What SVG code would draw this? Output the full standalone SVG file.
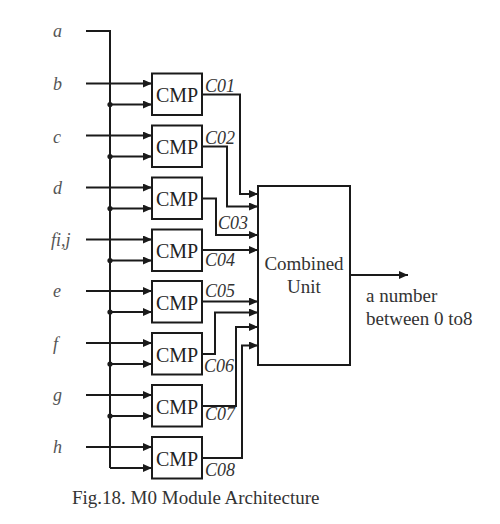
<svg xmlns="http://www.w3.org/2000/svg" width="500" height="524" viewBox="0 0 500 524">
<style>
.w{fill:none;stroke:#1a1a1a;stroke-width:2}
.a{marker-end:url(#ah)}
.box{fill:#fff;stroke:#1a1a1a;stroke-width:2}
.cmp{font-family:"Liberation Serif",serif;font-size:20px;fill:#222}
.lbl{font-family:"Liberation Serif",serif;font-size:18px;font-style:italic;fill:#333}
.in{font-family:"Liberation Serif",serif;font-size:18px;font-style:italic;fill:#555}
.t{font-family:"Liberation Serif",serif;font-size:19px;fill:#333}
.dot{fill:#1a1a1a}
</style>
<defs>
<marker id="ah" markerUnits="userSpaceOnUse" markerWidth="10" markerHeight="8" refX="9" refY="4" orient="auto">
<path d="M0,0 L9,4 L0,8 z" fill="#1a1a1a"/>
</marker>
</defs>
<rect width="500" height="524" fill="#fff"/>
<g id="connectors">
<path class="w" d="M86,31 H110 V468"/>
<path class="w a" d="M110,468 H152"/>
<path class="w a" d="M86,83.5 H152"/><path class="w a" d="M110,104.5 H152"/>
<path class="w a" d="M86,135.5 H152"/><path class="w a" d="M110,156.5 H152"/>
<path class="w a" d="M86,187.5 H152"/><path class="w a" d="M110,208.5 H152"/>
<path class="w a" d="M86,239.5 H152"/><path class="w a" d="M110,260.5 H152"/>
<path class="w a" d="M86,291 H152"/><path class="w a" d="M110,312 H152"/>
<path class="w a" d="M86,343 H152"/><path class="w a" d="M110,364 H152"/>
<path class="w a" d="M86,395 H152"/><path class="w a" d="M110,416 H152"/>
<path class="w a" d="M86,447 H152"/>
<circle class="dot" cx="110" cy="104.5" r="2.6"/>
<circle class="dot" cx="110" cy="156.5" r="2.6"/>
<circle class="dot" cx="110" cy="208.5" r="2.6"/>
<circle class="dot" cx="110" cy="260.5" r="2.6"/>
<circle class="dot" cx="110" cy="312" r="2.6"/>
<circle class="dot" cx="110" cy="364" r="2.6"/>
<circle class="dot" cx="110" cy="416" r="2.6"/>
<path class="w a" d="M202,94.5 H240 V194 H258"/>
<path class="w a" d="M202,146.5 H227 V206.5 H258"/>
<path class="w a" d="M202,198.5 H216 V235 H258"/>
<path class="w a" d="M202,250 H258"/>
<path class="w a" d="M202,301.5 H258"/>
<path class="w a" d="M202,354 H215 V312.5 H258"/>
<path class="w a" d="M202,406 H236 V327 H258"/>
<path class="w a" d="M202,458 H242 V345.5 H258"/>
<path class="w a" d="M350,275 H408"/>
</g>
<g id="inputs">
<text class="in" x="53" y="37">a</text>
<text class="in" x="53" y="90">b</text>
<text class="in" x="53" y="143">c</text>
<text class="in" x="53" y="194">d</text>
<text class="in" x="51" y="246">fi,j</text>
<text class="in" x="53" y="297">e</text>
<text class="in" x="53" y="350">f</text>
<text class="in" x="53" y="401">g</text>
<text class="in" x="53" y="453">h</text>
</g>
<g id="cmp1"><rect class="box" x="152" y="73.5" width="50" height="41.5"/><text class="cmp" x="177" y="102" text-anchor="middle">CMP</text><text class="lbl" x="205" y="91.5">C01</text></g>
<g id="cmp2"><rect class="box" x="152" y="125.5" width="50" height="41.5"/><text class="cmp" x="177" y="154" text-anchor="middle">CMP</text><text class="lbl" x="205" y="143.5">C02</text></g>
<g id="cmp3"><rect class="box" x="152" y="177.5" width="50" height="41.5"/><text class="cmp" x="177" y="206" text-anchor="middle">CMP</text><text class="lbl" x="218" y="229">C03</text></g>
<g id="cmp4"><rect class="box" x="152" y="229.5" width="50" height="41.5"/><text class="cmp" x="177" y="258" text-anchor="middle">CMP</text><text class="lbl" x="205" y="266">C04</text></g>
<g id="cmp5"><rect class="box" x="152" y="281" width="50" height="41.5"/><text class="cmp" x="177" y="309.5" text-anchor="middle">CMP</text><text class="lbl" x="205" y="297">C05</text></g>
<g id="cmp6"><rect class="box" x="152" y="333" width="50" height="41.5"/><text class="cmp" x="177" y="361.5" text-anchor="middle">CMP</text><text class="lbl" x="204" y="372">C06</text></g>
<g id="cmp7"><rect class="box" x="152" y="385" width="50" height="41.5"/><text class="cmp" x="177" y="413.5" text-anchor="middle">CMP</text><text class="lbl" x="205" y="420">C07</text></g>
<g id="cmp8"><rect class="box" x="152" y="437" width="50" height="41.5"/><text class="cmp" x="177" y="465.5" text-anchor="middle">CMP</text><text class="lbl" x="205" y="476">C08</text></g>
<g id="combined"><rect class="box" x="258" y="186" width="92" height="179"/><text class="t" x="304" y="269.5" text-anchor="middle">Combined</text><text class="t" x="304" y="293" text-anchor="middle">Unit</text></g>
<g id="output"><text class="t" x="366" y="301.5">a number</text><text class="t" x="366" y="325">between 0 to8</text></g>
<text class="t" x="72" y="504">Fig.18. M0 Module Architecture</text>
</svg>
